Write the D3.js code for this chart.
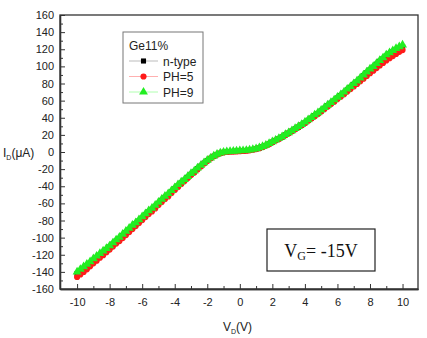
<!DOCTYPE html>
<html>
<head>
<meta charset="utf-8">
<script src="https://cdnjs.cloudflare.com/ajax/libs/d3/7.8.5/d3.min.js"></script>
<style>
  body { margin: 0; background: #fff; }
  svg { display: block; font-family: "Liberation Sans", Arial, sans-serif; }
  .axis path, .axis line { stroke: #333; }
  .axis text { font-size: 11px; fill: #222; }
</style>
</head>
<body>
<div id="chart"></div>
<script>
// drain voltage, -10..10 V in 0.2 V steps
var vd = d3.range(101).map(function (i) { return +(-10 + i * 0.2).toFixed(1); });

var nType = [-142, -139, -136, -133, -130, -126.5, -123.5, -120.5, -117.5, -114,
  -111, -107.5, -104, -101, -97.5, -94, -90.5, -87, -84, -80.5,
  -77, -73.5, -70, -67, -63.5, -60, -56.5, -53, -50, -46.5,
  -43, -39.5, -36, -33, -29.5, -26, -23, -19.5, -16.5, -13,
  -10, -7.5, -5, -3, -1.5, -0.5, 0, 0.5, 0.5, 0.8,
  1, 1.2, 1.5, 2, 2.7, 3.5, 4.5, 6, 7.5, 9.5,
  11.5, 13.5, 15.5, 17.5, 20, 22, 24.5, 27, 29, 31.5,
  34, 37, 39.5, 42.5, 45, 48, 51, 54, 57, 60,
  63, 66, 69, 72.5, 75.5, 79, 82, 85.5, 89, 92.5,
  96, 99, 102.5, 106, 109, 112, 114.5, 117, 119, 121, 123];

var ph5 = [-146, -143, -140, -137, -133.5, -130, -127, -123.5, -120.5, -117,
  -114, -110.5, -107, -104, -100.5, -97, -93.5, -90, -86.5, -83,
  -79.5, -76, -72.5, -69.5, -66, -62, -58.5, -55, -52, -48,
  -44.5, -41, -37.5, -34, -30.5, -27, -24, -20.5, -17, -13.5,
  -10.5, -7.5, -5, -3, -1.5, -0.5, 0, 0.3, 0.5, 0.7,
  1, 1.2, 1.5, 2, 2.6, 3.4, 4.5, 5.8, 7.5, 9.3,
  11.3, 13.3, 15.3, 17.5, 19.8, 22, 24.3, 26.6, 29, 31.3,
  33.8, 36.5, 39, 41.8, 44.5, 47.3, 50.2, 53, 56, 58.8,
  61.8, 64.6, 67.5, 70.6, 73.5, 76.6, 79.5, 82.5, 85.6, 88.8,
  92, 95, 98, 101, 104, 107, 109.5, 112, 114.5, 117, 119];

var ph9 = [-140, -137, -134, -131, -128, -124.5, -121.5, -118.5, -115.5, -112.5,
  -109.5, -106, -102.5, -99.5, -96, -92.5, -89, -85.5, -82.5, -79,
  -75.5, -72, -68.5, -65.5, -62, -58.5, -55, -51.5, -48.5, -45,
  -41.5, -38, -35, -32, -28.5, -25, -22, -18.5, -15.5, -12.5,
  -9.5, -7, -4.5, -2.5, -1, 0, 0.5, 0.8, 1, 1.2,
  1.5, 1.7, 2, 2.5, 3.2, 4, 5, 6.5, 8, 10,
  12, 14, 16, 18, 20.5, 22.5, 25, 27.5, 29.8, 32.3,
  35, 37.8, 40.5, 43.5, 46, 49, 52, 55, 58, 61,
  64, 67, 70, 73.5, 76.5, 80, 83, 86.5, 90, 93.5,
  97, 100, 103.5, 107, 110, 113.5, 116, 118.5, 121, 123, 125];

var seriesNames = ["n-type", "PH=5", "PH=9"];
var seriesValues = [nType, ph5, ph9];
var seriesColors = ["#000000", "#ff1a1a", "#22ee22"];
var lineColors = ["#bbbbbb", "#ffb0b0", "#b0ffb0"];
var seriesShapes = [d3.symbolSquare, d3.symbolCircle, d3.symbolTriangle];
var seriesSizes = [26, 30, 34];

var xTicks = d3.range(-10, 11, 2);
var yTicks = d3.range(-160, 161, 20);

var W = 427, H = 338;
var margin = { left: 60, right: 9, top: 15, bottom: 49 };
var width = W - margin.left - margin.right,
    height = H - margin.top - margin.bottom;

var svg = d3.select("#chart").append("svg")
  .attr("width", W)
  .attr("height", H);

var g = svg.append("g")
  .attr("transform", "translate(" + margin.left + "," + margin.top + ")");

var x = d3.scaleLinear().domain([-11.05, 10.95]).range([0, width]);
var y = d3.scaleLinear().domain([-160, 160]).range([height, 0]);

var plainFmt = function (d) { return String(d); };

// frame
g.append("rect")
  .attr("width", width).attr("height", height)
  .attr("fill", "none").attr("stroke", "#333").attr("stroke-width", 1.3);

// major / minor ticks, pointing inward
var yAxis = d3.axisLeft(y).tickValues(yTicks).tickFormat(plainFmt).tickSize(-5).tickSizeOuter(0).tickPadding(6);
g.append("g").attr("class", "axis").call(yAxis);
var yMinor = d3.axisLeft(y).tickValues(d3.range(-150, 160, 20)).tickSize(-3).tickSizeOuter(0).tickFormat("");
g.append("g").attr("class", "axis").call(yMinor);

var xAxis = d3.axisBottom(x).tickValues(xTicks).tickFormat(plainFmt).tickSize(-5).tickSizeOuter(0).tickPadding(9);
g.append("g").attr("class", "axis").attr("transform", "translate(0," + height + ")").call(xAxis);
var xMinor = d3.axisBottom(x).tickValues(d3.range(-9, 10, 2)).tickSize(-3).tickSizeOuter(0).tickFormat("");
g.append("g").attr("class", "axis").attr("transform", "translate(0," + height + ")").call(xMinor);

g.selectAll(".axis path").attr("stroke-width", 1.3);

// axis titles
var yl = svg.append("text").attr("x", 3).attr("y", 157).attr("font-size", 12).attr("fill", "#222");
yl.append("tspan").text("I");
yl.append("tspan").attr("font-size", 7).attr("dy", 3).text("D");
yl.append("tspan").attr("dy", -3).text("(\u03bcA)");

var xl = svg.append("text").attr("x", 223).attr("y", 331).attr("font-size", 12).attr("fill", "#222");
xl.append("tspan").text("V");
xl.append("tspan").attr("font-size", 7).attr("dy", 3).text("D");
xl.append("tspan").attr("dy", -3).text("(V)");

// data
seriesValues.forEach(function (vals, s) {
  var pts = vd.map(function (v, i) { return [v, vals[i]]; });
  g.append("path")
    .datum(pts)
    .attr("fill", "none")
    .attr("stroke", lineColors[s])
    .attr("stroke-width", 0.8)
    .attr("d", d3.line().x(function (d) { return x(d[0]); }).y(function (d) { return y(d[1]); }));
  g.append("g").selectAll("path")
    .data(pts)
    .enter().append("path")
    .attr("transform", function (d) { return "translate(" + x(d[0]) + "," + y(d[1]) + ")"; })
    .attr("d", d3.symbol().type(seriesShapes[s]).size(seriesSizes[s]))
    .attr("fill", seriesColors[s]);
});

// legend
var lg = svg.append("g").attr("transform", "translate(123,32)");
lg.append("rect").attr("width", 80).attr("height", 71)
  .attr("fill", "#fff").attr("stroke", "#777").attr("stroke-width", 1);
lg.append("text").attr("x", 6).attr("y", 18).attr("font-size", 12).attr("fill", "#222").text("Ge11%");
seriesNames.forEach(function (name, s) {
  var ry = 29 + s * 15.5;
  lg.append("line").attr("x1", 6).attr("x2", 35).attr("y1", ry).attr("y2", ry)
    .attr("stroke", lineColors[s]).attr("stroke-width", 1);
  lg.append("path").attr("transform", "translate(20.5," + ry + ")")
    .attr("d", d3.symbol().type(seriesShapes[s]).size(seriesSizes[s]))
    .attr("fill", seriesColors[s]);
  lg.append("text").attr("x", 40).attr("y", ry + 4.5).attr("font-size", 12).attr("fill", "#222").text(name);
});

// gate voltage box
var vg = svg.append("g").attr("transform", "translate(267,229)");
vg.append("rect").attr("width", 108).attr("height", 42)
  .attr("fill", "#fff").attr("stroke", "#222").attr("stroke-width", 1.2);
var vt = vg.append("text").attr("x", 54).attr("y", 28).attr("text-anchor", "middle")
  .attr("font-family", "'Liberation Serif', 'Times New Roman', serif").attr("font-size", 18).attr("fill", "#111");
vt.append("tspan").text("V");
vt.append("tspan").attr("font-size", 12).attr("dy", 3).text("G");
vt.append("tspan").attr("dy", -3).text("= -15V");
</script>
</body>
</html>
